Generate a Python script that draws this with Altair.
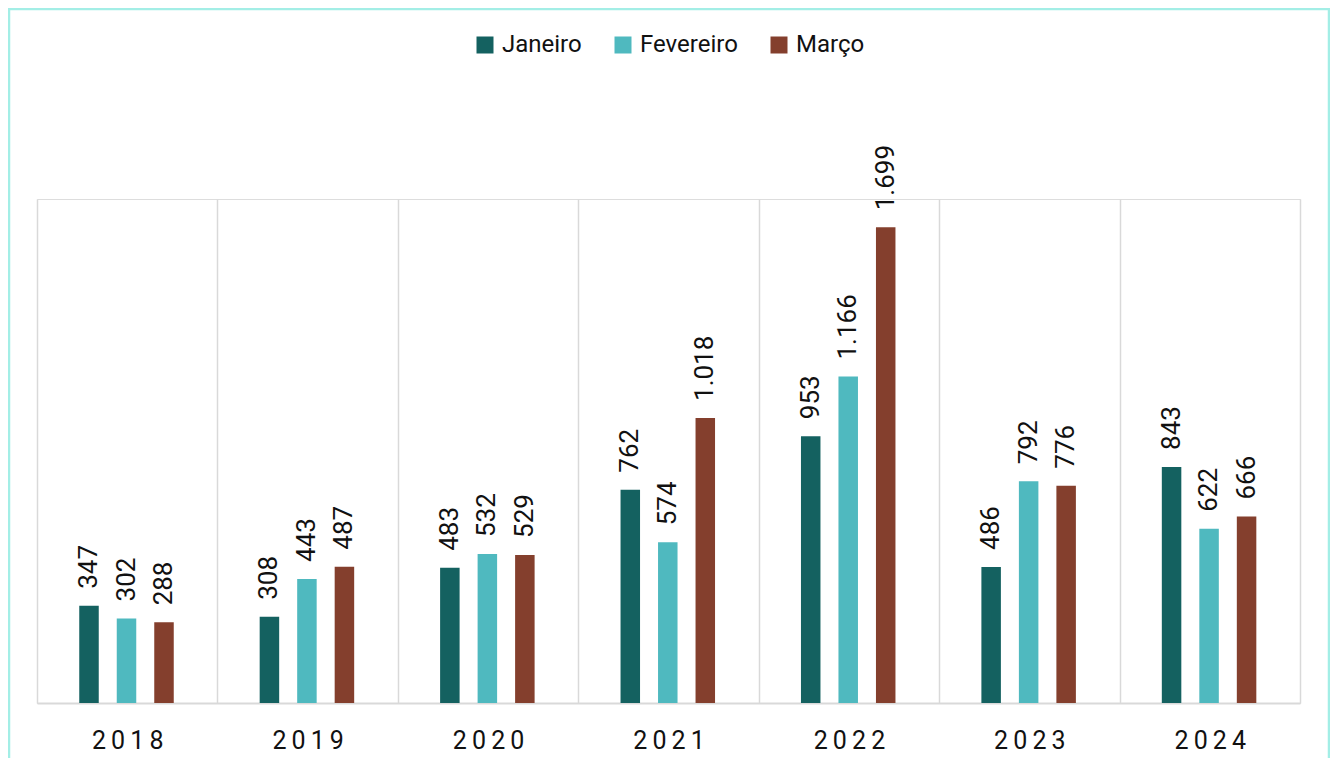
import altair as alt
import pandas as pd

years = ["2018", "2019", "2020", "2021", "2022", "2023", "2024"]
months = ["Janeiro", "Fevereiro", "Março"]
janeiro = [347, 308, 483, 762, 953, 486, 843]
fevereiro = [302, 443, 532, 574, 1166, 792, 622]
marco = [288, 487, 529, 1018, 1699, 776, 666]
colors = ["#146160", "#4FB9BF", "#843F2D"]

rows = []
for i, y in enumerate(years):
    for m, vals in zip(months, [janeiro, fevereiro, marco]):
        rows.append({"ano": y, "mes": m, "valor": vals[i]})
df = pd.DataFrame(rows)

W, H = 1263, 504
FONT = "Roboto"

base = alt.Chart(df).transform_calculate(
    label="replace(format(datum.valor, ',d'), ',', '.')"
)

xenc = alt.X(
    "ano:N",
    sort=years,
    scale=alt.Scale(paddingInner=0, paddingOuter=0),
    axis=alt.Axis(
        title=None,
        grid=True,
        tickBand="extent",
        gridColor="#d9d9d9",
        gridWidth=1.5,
        ticks=False,
        domainColor="#d9d9d9",
        domainWidth=2,
        labelFont=FONT,
        labelFontSize=25,
        labelColor="#111111",
        labelPadding=25,
        labelAngle=0,
        labelExpr="join(split(datum.label, ''), '\u2009')",
    ),
)
yenc = alt.Y("valor:Q", scale=alt.Scale(domain=[0, 1800], nice=False), axis=None)
xoff = alt.XOffset("mes:N", sort=months,
                   scale=alt.Scale(range=[42.25, 136.75], paddingInner=0.48, paddingOuter=0))

bars = base.mark_bar(size=19.5).encode(
    x=xenc,
    y=yenc,
    xOffset=xoff,
    color=alt.Color(
        "mes:N",
        sort=months,
        scale=alt.Scale(domain=months, range=colors),
        legend=alt.Legend(
            title=None,
            orient="none",
            legendX=436,
            legendY=-166,
            direction="horizontal",
            symbolType="square",
            symbolSize=289,
            symbolStrokeWidth=0,
            labelFont=FONT,
            labelFontSize=24,
            labelColor="#111111",
            labelOffset=5,
            columnPadding=29,
            padding=0,
        ),
    ),
)

labels = base.mark_text(
    angle=270, align="left", baseline="middle", dx=17,
    font=FONT, fontSize=26, color="#111111",
).encode(
    x=alt.X("ano:N", sort=years),
    y=alt.Y("valor:Q"),
    xOffset=alt.XOffset("mes:N", sort=months),
    text="label:N",
)

frame = alt.Chart(pd.DataFrame({"a": [0]})).mark_rect(
    filled=False, stroke="#A3EEE6", strokeWidth=2.5
).encode(
    x=alt.value(-28), x2=alt.value(1292), y=alt.value(-190), y2=alt.value(700)
)

chart = alt.layer(frame, bars, labels).properties(
    width=W, height=H,
    autosize=alt.AutoSizeParams(type="none"),
    padding={"left": 29, "top": 191, "right": 30, "bottom": 70},
).configure_view(stroke=None).configure(background="white")

chart.save("out.html", embed_options={"renderer": "svg", "actions": False})
